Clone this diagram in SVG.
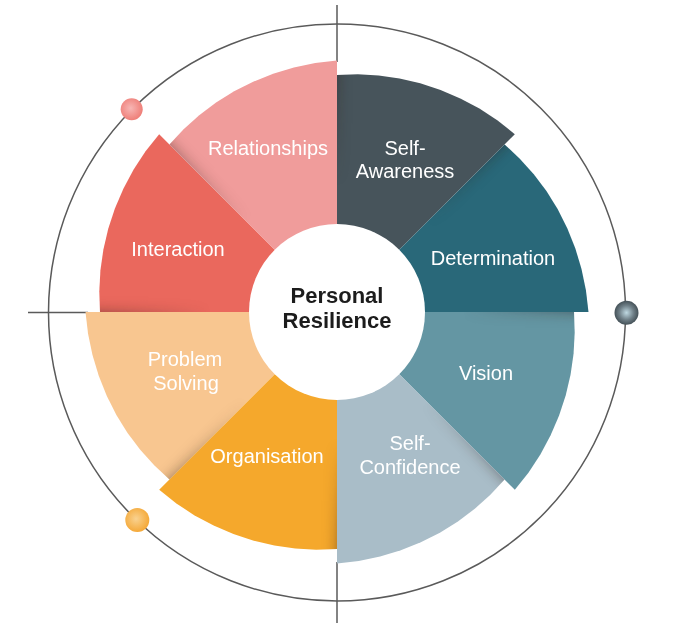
<svg xmlns="http://www.w3.org/2000/svg" xmlns:xlink="http://www.w3.org/1999/xlink" width="676" height="633" viewBox="0 0 676 633">
<style>
.line{stroke:#5a5a5a;stroke-width:1.5;fill:none}
.lbl{font-family:"Liberation Sans",Arial,sans-serif;font-size:20px;fill:#ffffff;text-anchor:middle}
.ctr{font-family:"Liberation Sans",Arial,sans-serif;font-size:22px;font-weight:bold;fill:#1c1c1c;text-anchor:middle}
.shd{fill:#2a1c14;opacity:0.55}
</style>
<defs>
<path id="sec" d="M0,0 L237,0 L237.70,20.80 L236.57,41.71 L233.59,62.59 L228.76,83.26 L222.10,103.57 L213.62,123.33 L203.38,142.41 L191.43,160.63 L177.84,177.84 Z"/>
<filter id="blur" x="-30%" y="-30%" width="160%" height="160%"><feGaussianBlur stdDeviation="7"/></filter>
<radialGradient id="rg" gradientUnits="userSpaceOnUse" cx="337" cy="312" r="252">
<stop offset="0" stop-color="#000"/><stop offset="0.5" stop-color="#000"/><stop offset="1" stop-color="#fff"/>
</radialGradient>
<mask id="fade" maskUnits="userSpaceOnUse" x="0" y="0" width="676" height="633"><rect width="676" height="633" fill="url(#rg)"/></mask>
<clipPath id="c0"><use xlink:href="#sec" transform="translate(337 312) rotate(0)"/></clipPath>
<clipPath id="c45"><use xlink:href="#sec" transform="translate(337 312) rotate(45)"/></clipPath>
<clipPath id="c90"><use xlink:href="#sec" transform="translate(337 312) rotate(90)"/></clipPath>
<clipPath id="c135"><use xlink:href="#sec" transform="translate(337 312) rotate(135)"/></clipPath>
<clipPath id="c180"><use xlink:href="#sec" transform="translate(337 312) rotate(180)"/></clipPath>
<clipPath id="c225"><use xlink:href="#sec" transform="translate(337 312) rotate(225)"/></clipPath>
<clipPath id="c270"><use xlink:href="#sec" transform="translate(337 312) rotate(270)"/></clipPath>
<clipPath id="c315"><use xlink:href="#sec" transform="translate(337 312) rotate(315)"/></clipPath>
<radialGradient id="gPink" cx="0.45" cy="0.45" r="0.6"><stop offset="0" stop-color="#F7B6B4"/><stop offset="1" stop-color="#EE7A73"/></radialGradient>
<radialGradient id="gOrange" cx="0.45" cy="0.45" r="0.6"><stop offset="0" stop-color="#F9D290"/><stop offset="1" stop-color="#F4A531"/></radialGradient>
<radialGradient id="gGray" cx="0.5" cy="0.5" r="0.55"><stop offset="0" stop-color="#BFD9E2"/><stop offset="0.55" stop-color="#6E7E86"/><stop offset="1" stop-color="#3A464C"/></radialGradient>
</defs>

<g id="connectors">
<line class="line" x1="337" y1="5" x2="337" y2="62"/>
<line class="line" x1="337" y1="562" x2="337" y2="623"/>
<line class="line" x1="28" y1="312.5" x2="88" y2="312.5"/>
<circle class="line" cx="337" cy="312.5" r="288.5"/>
</g>

<g id="sectors">
<g id="problem-solving"><use xlink:href="#sec" transform="translate(337 312) rotate(135)" fill="#F8C690"/></g>
<g id="interaction"><use xlink:href="#sec" transform="translate(337 312) rotate(180)" fill="#EA685D"/></g>
<g id="relationships"><use xlink:href="#sec" transform="translate(337 312) rotate(225)" fill="#F09C9B"/></g>
<g id="self-awareness"><use xlink:href="#sec" transform="translate(337 312) rotate(270)" fill="#47545B"/></g>
<g id="determination"><use xlink:href="#sec" transform="translate(337 312) rotate(315)" fill="#296879"/></g>
<g id="vision"><use xlink:href="#sec" transform="translate(337 312) rotate(0)" fill="#6496A3"/></g>
<g id="self-confidence"><use xlink:href="#sec" transform="translate(337 312) rotate(45)" fill="#A9BDC8"/></g>
<g id="organisation"><use xlink:href="#sec" transform="translate(337 312) rotate(90)" fill="#F5A82C"/></g>
</g>

<g id="shadows" mask="url(#fade)">
<g clip-path="url(#c0)"><use class="shd" xlink:href="#sec" transform="translate(337 312) rotate(315)" filter="url(#blur)"/></g>
<g clip-path="url(#c45)"><use class="shd" xlink:href="#sec" transform="translate(337 312) rotate(0)" filter="url(#blur)"/></g>
<g clip-path="url(#c90)"><use class="shd" xlink:href="#sec" transform="translate(337 312) rotate(45)" filter="url(#blur)"/></g>
<g clip-path="url(#c135)"><use class="shd" xlink:href="#sec" transform="translate(337 312) rotate(90)" filter="url(#blur)"/></g>
<g clip-path="url(#c180)"><use class="shd" xlink:href="#sec" transform="translate(337 312) rotate(135)" filter="url(#blur)"/></g>
<g clip-path="url(#c225)"><use class="shd" xlink:href="#sec" transform="translate(337 312) rotate(180)" filter="url(#blur)"/></g>
<g clip-path="url(#c270)"><use class="shd" xlink:href="#sec" transform="translate(337 312) rotate(225)" filter="url(#blur)"/></g>
<g clip-path="url(#c315)"><use class="shd" xlink:href="#sec" transform="translate(337 312) rotate(270)" filter="url(#blur)"/></g>
</g>

<g id="labels">
<text class="lbl" x="268" y="155">Relationships</text>
<text class="lbl" x="178" y="256">Interaction</text>
<text class="lbl" x="405" y="155">Self-</text>
<text class="lbl" x="405" y="178">Awareness</text>
<text class="lbl" x="493" y="265">Determination</text>
<text class="lbl" x="486" y="380">Vision</text>
<text class="lbl" x="410" y="450">Self-</text>
<text class="lbl" x="410" y="474">Confidence</text>
<text class="lbl" x="267" y="463">Organisation</text>
<text class="lbl" x="185" y="366">Problem</text>
<text class="lbl" x="186" y="390">Solving</text>
</g>

<g id="center">
<circle cx="337" cy="312" r="88" fill="#ffffff"/>
<text class="ctr" x="337" y="303">Personal</text>
<text class="ctr" x="337" y="328">Resilience</text>
</g>

<g id="dots">
<circle id="dot-pink" cx="131.7" cy="109.3" r="11" fill="url(#gPink)"/>
<circle id="dot-orange" cx="137.3" cy="520" r="12" fill="url(#gOrange)"/>
<circle id="dot-gray" cx="626.5" cy="312.7" r="12" fill="url(#gGray)"/>
</g>
</svg>
